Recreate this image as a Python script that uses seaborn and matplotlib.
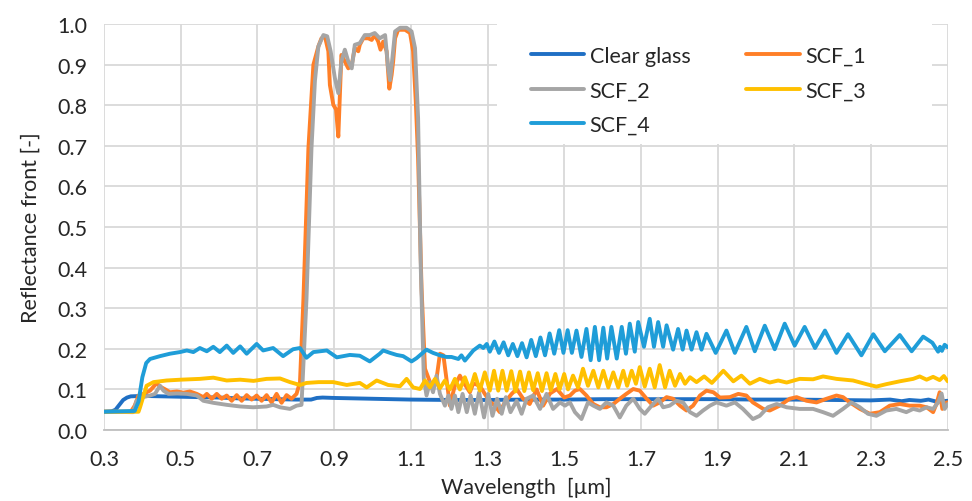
import matplotlib
matplotlib.use("Agg")
import matplotlib.pyplot as plt
from matplotlib.patches import Rectangle
import seaborn as sns
import numpy as np


SERIES_NAMES = ["Clear glass", "SCF_1", "SCF_2", "SCF_3", "SCF_4"]

COLORS = {
    "Clear glass": "#1f6fc4",
    "SCF_1": "#ff7f27",
    "SCF_2": "#a5a5a5",
    "SCF_3": "#ffc000",
    "SCF_4": "#1f9dd8",
}

# wavelength [um] / reflectance [-]
clear_x = [0.30, 0.32, 0.33, 0.34, 0.35, 0.36, 0.37, 0.40, 0.45, 0.50, 0.55, 0.60,
           0.65, 0.70, 0.75, 0.80, 0.84, 0.855, 0.87, 0.90, 1.00, 1.10, 1.20, 1.30,
           1.40, 1.50, 1.60, 1.70, 1.80, 1.90, 2.00, 2.10, 2.20, 2.30, 2.35, 2.38,
           2.40, 2.43, 2.45, 2.47, 2.50]
clear_y = [0.045, 0.046, 0.050, 0.062, 0.074, 0.080, 0.083, 0.084, 0.083, 0.082, 0.081, 0.080,
           0.078, 0.077, 0.076, 0.075, 0.075, 0.079, 0.080, 0.079, 0.077, 0.075, 0.074, 0.074,
           0.075, 0.075, 0.076, 0.076, 0.076, 0.076, 0.075, 0.075, 0.074, 0.073, 0.075, 0.071,
           0.074, 0.072, 0.075, 0.070, 0.072]

scf1_x = [0.30, 0.37, 0.38, 0.39, 0.40, 0.42, 0.437, 0.45, 0.46, 0.472, 0.49, 0.507,
          0.524, 0.542, 0.559, 0.568, 0.581, 0.594, 0.607, 0.620, 0.633, 0.646, 0.659,
          0.672, 0.685, 0.698, 0.711, 0.724, 0.737, 0.750, 0.763, 0.776, 0.789, 0.802,
          0.811, 0.820, 0.833, 0.846, 0.859, 0.867, 0.876, 0.885, 0.889, 0.898, 0.905,
          0.911, 0.915, 0.919, 0.928, 0.937, 0.946, 0.954, 0.963, 0.967, 0.976, 0.989,
          0.998, 1.006, 1.015, 1.021, 1.028, 1.037, 1.044, 1.050, 1.054, 1.059, 1.067,
          1.085, 1.098, 1.106, 1.113, 1.119, 1.128, 1.137, 1.150, 1.158, 1.167, 1.176,
          1.185, 1.193, 1.202, 1.215, 1.228, 1.237, 1.254, 1.263, 1.280, 1.293, 1.306,
          1.319, 1.332, 1.345, 1.363, 1.376, 1.393, 1.410, 1.428, 1.445, 1.463, 1.481,
          1.500, 1.515, 1.528, 1.541, 1.558, 1.576, 1.593, 1.610, 1.628, 1.645, 1.662,
          1.680, 1.697, 1.715, 1.732, 1.749, 1.767, 1.784, 1.802, 1.819, 1.836, 1.854,
          1.871, 1.889, 1.906, 1.932, 1.954, 1.975, 1.992, 2.019, 2.036, 2.062, 2.088,
          2.106, 2.132, 2.158, 2.184, 2.210, 2.227, 2.245, 2.271, 2.297, 2.323, 2.349,
          2.375, 2.401, 2.427, 2.445, 2.462, 2.471, 2.479, 2.486, 2.497, 2.500]
scf1_y = [0.045, 0.045, 0.060, 0.085, 0.088, 0.097, 0.115, 0.105, 0.100, 0.093, 0.095, 0.092,
          0.095, 0.089, 0.081, 0.089, 0.077, 0.089, 0.077, 0.085, 0.072, 0.086, 0.072,
          0.086, 0.075, 0.085, 0.072, 0.086, 0.068, 0.089, 0.067, 0.086, 0.077, 0.089,
          0.118, 0.323, 0.694, 0.900, 0.945, 0.965, 0.970, 0.933, 0.850, 0.801, 0.790,
          0.723, 0.825, 0.924, 0.908, 0.891, 0.900, 0.941, 0.933, 0.949, 0.965, 0.965,
          0.961, 0.973, 0.957, 0.937, 0.957, 0.933, 0.841, 0.875, 0.908, 0.965, 0.986,
          0.986, 0.978, 0.933, 0.809, 0.669, 0.350, 0.151, 0.118, 0.109, 0.126, 0.188,
          0.184, 0.126, 0.060, 0.110, 0.134, 0.118, 0.093, 0.115, 0.109, 0.089, 0.070,
          0.060, 0.044, 0.068, 0.089, 0.101, 0.077, 0.064, 0.100, 0.060, 0.090, 0.101,
          0.080, 0.085, 0.097, 0.101, 0.085, 0.064, 0.056, 0.056, 0.064, 0.077, 0.089,
          0.101, 0.097, 0.077, 0.060, 0.068, 0.081, 0.077, 0.060, 0.048, 0.060, 0.085,
          0.097, 0.093, 0.080, 0.081, 0.089, 0.085, 0.068, 0.052, 0.048, 0.060, 0.077,
          0.081, 0.072, 0.068, 0.077, 0.085, 0.081, 0.068, 0.052, 0.040, 0.044, 0.060,
          0.064, 0.060, 0.060, 0.056, 0.044, 0.065, 0.093, 0.052, 0.068, 0.068]

scf2_x = [0.30, 0.376, 0.385, 0.402, 0.420, 0.433, 0.446, 0.455, 0.468, 0.490, 0.516,
          0.542, 0.559, 0.585, 0.620, 0.655, 0.689, 0.724, 0.741, 0.759, 0.785, 0.802,
          0.815, 0.828, 0.841, 0.850, 0.859, 0.872, 0.882, 0.891, 0.902, 0.911, 0.919,
          0.928, 0.937, 0.946, 0.954, 0.967, 0.980, 0.993, 1.006, 1.019, 1.033, 1.041,
          1.046, 1.052, 1.059, 1.072, 1.089, 1.102, 1.111, 1.119, 1.126, 1.134, 1.141,
          1.150, 1.158, 1.167, 1.176, 1.189, 1.198, 1.206, 1.215, 1.224, 1.235, 1.246,
          1.256, 1.267, 1.278, 1.291, 1.302, 1.313, 1.325, 1.337, 1.348, 1.360, 1.376,
          1.389, 1.402, 1.419, 1.437, 1.454, 1.471, 1.489, 1.502, 1.515, 1.528, 1.545,
          1.562, 1.576, 1.593, 1.610, 1.628, 1.645, 1.662, 1.680, 1.697, 1.710, 1.728,
          1.745, 1.758, 1.775, 1.793, 1.810, 1.828, 1.845, 1.862, 1.880, 1.897, 1.923,
          1.945, 1.966, 1.992, 2.010, 2.031, 2.054, 2.080, 2.114, 2.149, 2.175, 2.201,
          2.227, 2.249, 2.271, 2.292, 2.314, 2.340, 2.366, 2.392, 2.410, 2.427, 2.445,
          2.462, 2.475, 2.484, 2.492, 2.500]
scf2_y = [0.045, 0.044, 0.072, 0.081, 0.085, 0.089, 0.109, 0.097, 0.089, 0.090, 0.089,
          0.085, 0.072, 0.067, 0.062, 0.058, 0.056, 0.058, 0.062, 0.056, 0.052, 0.060,
          0.062, 0.323, 0.694, 0.860, 0.945, 0.973, 0.970, 0.933, 0.867, 0.830, 0.908,
          0.937, 0.908, 0.891, 0.949, 0.953, 0.973, 0.973, 0.978, 0.965, 0.973, 0.891,
          0.862, 0.916, 0.982, 0.991, 0.991, 0.982, 0.941, 0.768, 0.400, 0.126, 0.085,
          0.118, 0.093, 0.134, 0.089, 0.060, 0.085, 0.052, 0.085, 0.044, 0.089, 0.044,
          0.085, 0.040, 0.093, 0.031, 0.089, 0.035, 0.077, 0.040, 0.081, 0.044, 0.072,
          0.040, 0.077, 0.085, 0.052, 0.089, 0.052, 0.068, 0.060, 0.068, 0.044, 0.027,
          0.068, 0.060, 0.052, 0.068, 0.060, 0.031, 0.060, 0.077, 0.052, 0.040, 0.060,
          0.077, 0.056, 0.060, 0.072, 0.068, 0.044, 0.035, 0.048, 0.060, 0.068, 0.060,
          0.068, 0.052, 0.027, 0.035, 0.056, 0.064, 0.056, 0.052, 0.052, 0.044, 0.035,
          0.052, 0.068, 0.056, 0.040, 0.035, 0.048, 0.052, 0.044, 0.052, 0.048, 0.056,
          0.052, 0.068, 0.090, 0.052, 0.064]

scf3_x = [0.30, 0.39, 0.394, 0.411, 0.429, 0.463, 0.50, 0.55, 0.585, 0.62, 0.655, 0.69,
          0.724, 0.759, 0.785, 0.811, 0.828, 0.86, 0.898, 0.933, 0.967, 0.985, 1.011,
          1.041, 1.072, 1.089, 1.106, 1.124, 1.137, 1.150, 1.163, 1.176, 1.189, 1.202,
          1.215, 1.228, 1.241, 1.254, 1.267, 1.280, 1.293, 1.306, 1.317, 1.328, 1.339,
          1.350, 1.362, 1.373, 1.385, 1.396, 1.408, 1.419, 1.431, 1.442, 1.454, 1.465,
          1.477, 1.488, 1.500, 1.510, 1.523, 1.536, 1.549, 1.562, 1.576, 1.589, 1.602,
          1.615, 1.628, 1.641, 1.654, 1.664, 1.676, 1.687, 1.697, 1.710, 1.723, 1.736,
          1.749, 1.763, 1.775, 1.789, 1.802, 1.815, 1.828, 1.845, 1.865, 1.885, 1.915,
          1.941, 1.962, 1.984, 2.010, 2.036, 2.058, 2.080, 2.114, 2.149, 2.175, 2.210,
          2.253, 2.288, 2.314, 2.340, 2.375, 2.410, 2.427, 2.445, 2.462, 2.479, 2.490,
          2.500]
scf3_y = [0.045, 0.045, 0.056, 0.109, 0.118, 0.122, 0.124, 0.126, 0.129, 0.122, 0.124, 0.121,
          0.126, 0.127, 0.118, 0.111, 0.116, 0.118, 0.118, 0.111, 0.116, 0.105, 0.122,
          0.111, 0.108, 0.126, 0.105, 0.101, 0.122, 0.105, 0.126, 0.103, 0.122, 0.100,
          0.126, 0.100, 0.130, 0.097, 0.138, 0.097, 0.142, 0.097, 0.146, 0.097, 0.146,
          0.097, 0.145, 0.095, 0.144, 0.096, 0.142, 0.098, 0.140, 0.096, 0.140, 0.098,
          0.138, 0.100, 0.138, 0.100, 0.134, 0.105, 0.151, 0.109, 0.146, 0.105, 0.146,
          0.105, 0.142, 0.105, 0.146, 0.109, 0.146, 0.114, 0.155, 0.107, 0.151, 0.105,
          0.160, 0.105, 0.146, 0.109, 0.138, 0.114, 0.130, 0.118, 0.132, 0.116, 0.146,
          0.120, 0.134, 0.114, 0.126, 0.117, 0.122, 0.117, 0.126, 0.125, 0.132, 0.126,
          0.122, 0.113, 0.107, 0.113, 0.120, 0.126, 0.132, 0.124, 0.131, 0.123, 0.133,
          0.120]

scf4_x = [0.30, 0.38, 0.39, 0.40, 0.41, 0.42, 0.446, 0.472, 0.498, 0.516, 0.533, 0.550,
          0.568, 0.585, 0.602, 0.620, 0.637, 0.655, 0.672, 0.698, 0.715, 0.741, 0.767,
          0.793, 0.811, 0.828, 0.846, 0.881, 0.907, 0.941, 0.967, 0.993, 1.019, 1.028,
          1.046, 1.063, 1.080, 1.102, 1.115, 1.141, 1.158, 1.176, 1.193, 1.206, 1.224,
          1.232, 1.241, 1.263, 1.280, 1.289, 1.298, 1.306, 1.318, 1.330, 1.342, 1.354,
          1.366, 1.378, 1.390, 1.402, 1.414, 1.426, 1.438, 1.450, 1.462, 1.474, 1.487,
          1.498, 1.509, 1.520, 1.532, 1.545, 1.558, 1.569, 1.580, 1.591, 1.602, 1.612,
          1.623, 1.637, 1.650, 1.661, 1.671, 1.684, 1.693, 1.708, 1.723, 1.734, 1.745,
          1.758, 1.767, 1.784, 1.797, 1.809, 1.819, 1.832, 1.845, 1.858, 1.871, 1.895,
          1.923, 1.945, 1.975, 1.997, 2.023, 2.049, 2.075, 2.101, 2.127, 2.154, 2.180,
          2.210, 2.240, 2.275, 2.306, 2.336, 2.375, 2.406, 2.436, 2.449, 2.460, 2.475,
          2.480, 2.485, 2.492, 2.500]
scf4_y = [0.045, 0.047, 0.070, 0.130, 0.165, 0.175, 0.182, 0.188, 0.192, 0.196, 0.192, 0.202,
          0.194, 0.205, 0.192, 0.208, 0.190, 0.206, 0.188, 0.212, 0.196, 0.202, 0.182,
          0.199, 0.202, 0.178, 0.192, 0.196, 0.179, 0.185, 0.183, 0.169, 0.188, 0.196,
          0.190, 0.185, 0.182, 0.169, 0.177, 0.198, 0.190, 0.184, 0.180, 0.180, 0.175,
          0.184, 0.171, 0.196, 0.208, 0.202, 0.212, 0.193, 0.218, 0.190, 0.216, 0.184,
          0.212, 0.182, 0.214, 0.179, 0.222, 0.182, 0.228, 0.184, 0.238, 0.188, 0.246,
          0.190, 0.246, 0.190, 0.245, 0.180, 0.249, 0.172, 0.254, 0.172, 0.252, 0.176,
          0.254, 0.176, 0.254, 0.188, 0.262, 0.193, 0.266, 0.205, 0.274, 0.205, 0.266,
          0.205, 0.258, 0.198, 0.249, 0.198, 0.245, 0.198, 0.241, 0.198, 0.237, 0.190,
          0.245, 0.190, 0.254, 0.194, 0.257, 0.199, 0.262, 0.208, 0.254, 0.202, 0.245,
          0.190, 0.236, 0.184, 0.236, 0.194, 0.234, 0.194, 0.230, 0.222, 0.215, 0.193,
          0.205, 0.195, 0.210, 0.204]

X_TICKS = [0.3, 0.5, 0.7, 0.9, 1.1, 1.3, 1.5, 1.7, 1.9, 2.1, 2.3, 2.5]
Y_TICKS = [0.0, 0.1, 0.2, 0.3, 0.4, 0.5, 0.6, 0.7, 0.8, 0.9, 1.0]

FONT_SIZE = 15.5


def main():

    sns.set_style("white")
    plt.rcParams["font.family"] = ["Lato", "DejaVu Sans"]

    fig = plt.figure(figsize=(9.72, 5.02), dpi=100)
    ax = fig.add_axes([0.107, 0.1414, 0.868, 0.8086])

    series = {
        "Clear glass": (clear_x, clear_y),
        "SCF_1": (scf1_x, scf1_y),
        "SCF_2": (scf2_x, scf2_y),
        "SCF_3": (scf3_x, scf3_y),
        "SCF_4": (scf4_x, scf4_y),
    }

    handles = {}
    for name in SERIES_NAMES:
        xs, ys = series[name]
        sns.lineplot(
            x=np.array(xs),
            y=np.array(ys),
            color=COLORS[name],
            linewidth=2.8,
            estimator=None,
            sort=False,
            ax=ax,
        )
        handles[name] = ax.lines[-1]

    ax.set_xlim(0.3, 2.5)
    ax.set_ylim(0.0, 1.0)
    ax.set_xticks(X_TICKS)
    ax.set_yticks(Y_TICKS)
    ax.set_xticklabels([f"{t:.1f}" for t in X_TICKS])
    ax.set_yticklabels([f"{t:.1f}" for t in Y_TICKS])
    ax.tick_params(axis="both", length=0, labelsize=FONT_SIZE, colors="#262626")
    ax.tick_params(axis="x", pad=14)
    ax.tick_params(axis="y", pad=12)

    ax.grid(True, color="#d9d9d9", linewidth=1.3)
    ax.set_axisbelow(True)
    for side in ["top", "right", "left"]:
        ax.spines[side].set_visible(False)
    ax.spines["bottom"].set_color("#bfbfbf")
    ax.spines["bottom"].set_linewidth(1.3)

    ax.set_xlabel("Wavelength  [µm]", fontsize=FONT_SIZE, color="#262626", labelpad=5)
    ax.set_ylabel("Reflectance front [-]", fontsize=FONT_SIZE, color="#262626", labelpad=12)

    # white legend area hiding the grid, as in the original chart
    ax.add_patch(Rectangle((0.466, 0.704), 0.515, 0.296, transform=ax.transAxes,
                           facecolor="white", edgecolor="none", zorder=1))

    order = ["Clear glass", "SCF_2", "SCF_4", "SCF_1", "SCF_3"]
    leg = ax.legend(
        [handles[n] for n in order],
        order,
        ncol=2,
        loc="upper left",
        bbox_to_anchor=(0.480, 1.0),
        fontsize=FONT_SIZE,
        frameon=False,
        handlelength=2.5,
        handletextpad=0.25,
        columnspacing=2.6,
        labelspacing=0.68,
        borderpad=0.5,
    )
    for text in leg.get_texts():
        text.set_color("#262626")

    fig.savefig("out.png", dpi=100)


if __name__ == "__main__":
    main()
